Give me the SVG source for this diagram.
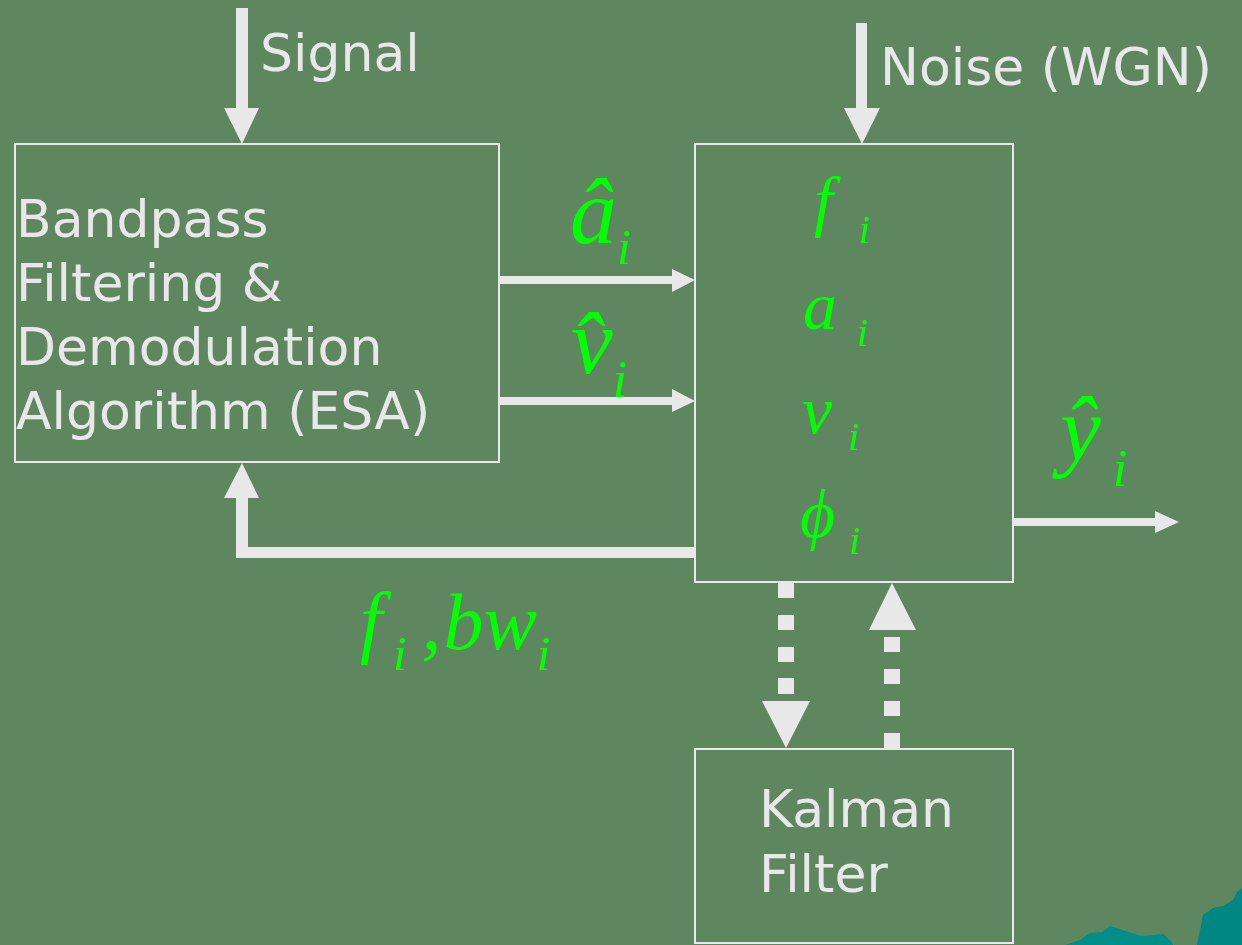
<svg xmlns="http://www.w3.org/2000/svg" width="1242" height="945" viewBox="0 0 1242 945">
<style>
.box{fill:none;stroke:#e8e8e8;stroke-width:2}
.lbl{font-family:"DejaVu Sans","Liberation Sans",sans-serif;font-size:52px;fill:#e8e8e8}
.m{font-family:"Liberation Serif","Times New Roman",serif;font-style:italic;fill:#00ff00}
.ar{fill:#e8e8e8}
</style>
<rect width="1242" height="945" fill="#5f875f"/>
<g id="deco">
<polygon points="1065,945 1080,940 1090,933 1102,932 1110,926 1117,928 1128,932 1142,936 1163,934 1172,942 1173,945" fill="#008e88"/>
<polygon points="1197,945 1203,915 1213,908 1223,906 1233,900 1237,892 1242,888 1242,945" fill="#008783"/>
</g>
<g id="esa">
<rect class="box" x="15" y="144" width="484" height="318"/>
<text class="lbl" x="16" y="237">Bandpass</text>
<text class="lbl" x="16" y="301">Filtering &amp;</text>
<text class="lbl" x="16" y="365">Demodulation</text>
<text class="lbl" x="16" y="429">Algorithm (ESA)</text>
</g>
<g id="model">
<rect class="box" x="695" y="144" width="318" height="438"/>
<text class="m" x="814" y="224" font-size="68">f<tspan font-size="40" dx="26" dy="19">i</tspan></text>
<text class="m" x="803" y="329" font-size="68">a<tspan font-size="40" dx="20" dy="17">i</tspan></text>
<text class="m" x="802" y="433" font-size="68">v<tspan font-size="40" dx="16" dy="17">i</tspan></text>
<text class="m" x="800" y="537" font-size="68">ϕ<tspan font-size="40" dx="14" dy="17">i</tspan></text>
</g>
<g id="kalman">
<rect class="box" x="695" y="749" width="318" height="194"/>
<text class="lbl" x="759" y="827">Kalman</text>
<text class="lbl" x="759" y="892">Filter</text>
</g>
<g id="labels">
<text class="lbl" x="260" y="71">Signal</text>
<text class="lbl" x="880" y="85">Noise (WGN)</text>
<text class="m" x="570" y="243" font-size="94">â<tspan font-size="50" dx="0" dy="21">i</tspan></text>
<text class="m" x="571" y="373" font-size="94">v̂<tspan font-size="52" dx="0" dy="24">i</tspan></text>
<text class="m" x="1060" y="460" font-size="92">ŷ<tspan font-size="52" dx="12" dy="26">i</tspan></text>
<text class="m" x="360" y="648" font-size="80">f<tspan font-size="48" dx="11" dy="22">i</tspan><tspan dx="15" dy="-21">,</tspan><tspan dx="2">bw</tspan><tspan font-size="48" dx="0" dy="21">i</tspan></text>
</g>
<g id="connectors">
<rect class="ar" x="236" y="8" width="12" height="101"/>
<polygon class="ar" points="224,108 259,108 242,144"/>
<rect class="ar" x="856" y="23" width="11" height="86"/>
<polygon class="ar" points="844,108 880,108 862,144"/>
<rect class="ar" x="499" y="276" width="174" height="8"/>
<polygon class="ar" points="672,269 695,280 672,292"/>
<rect class="ar" x="499" y="397" width="174" height="8"/>
<polygon class="ar" points="672,389 695,401 672,412"/>
<rect class="ar" x="236" y="547" width="459" height="11"/>
<rect class="ar" x="236" y="497" width="12" height="61"/>
<polygon class="ar" points="224,498 259,498 242,463"/>
<rect class="ar" x="1013" y="518" width="143" height="8"/>
<polygon class="ar" points="1155,511 1179,522 1155,533"/>
<rect class="ar" x="778" y="583" width="16" height="15"/>
<rect class="ar" x="778" y="615" width="16" height="15"/>
<rect class="ar" x="778" y="647" width="16" height="15"/>
<rect class="ar" x="778" y="678" width="16" height="16"/>
<polygon class="ar" points="762,701 810,701 786,748"/>
<rect class="ar" x="884" y="733" width="16" height="16"/>
<rect class="ar" x="884" y="701" width="16" height="15"/>
<rect class="ar" x="884" y="669" width="16" height="15"/>
<rect class="ar" x="884" y="637" width="16" height="15"/>
<polygon class="ar" points="869,630 916,630 892,583"/>
</g>
</svg>
